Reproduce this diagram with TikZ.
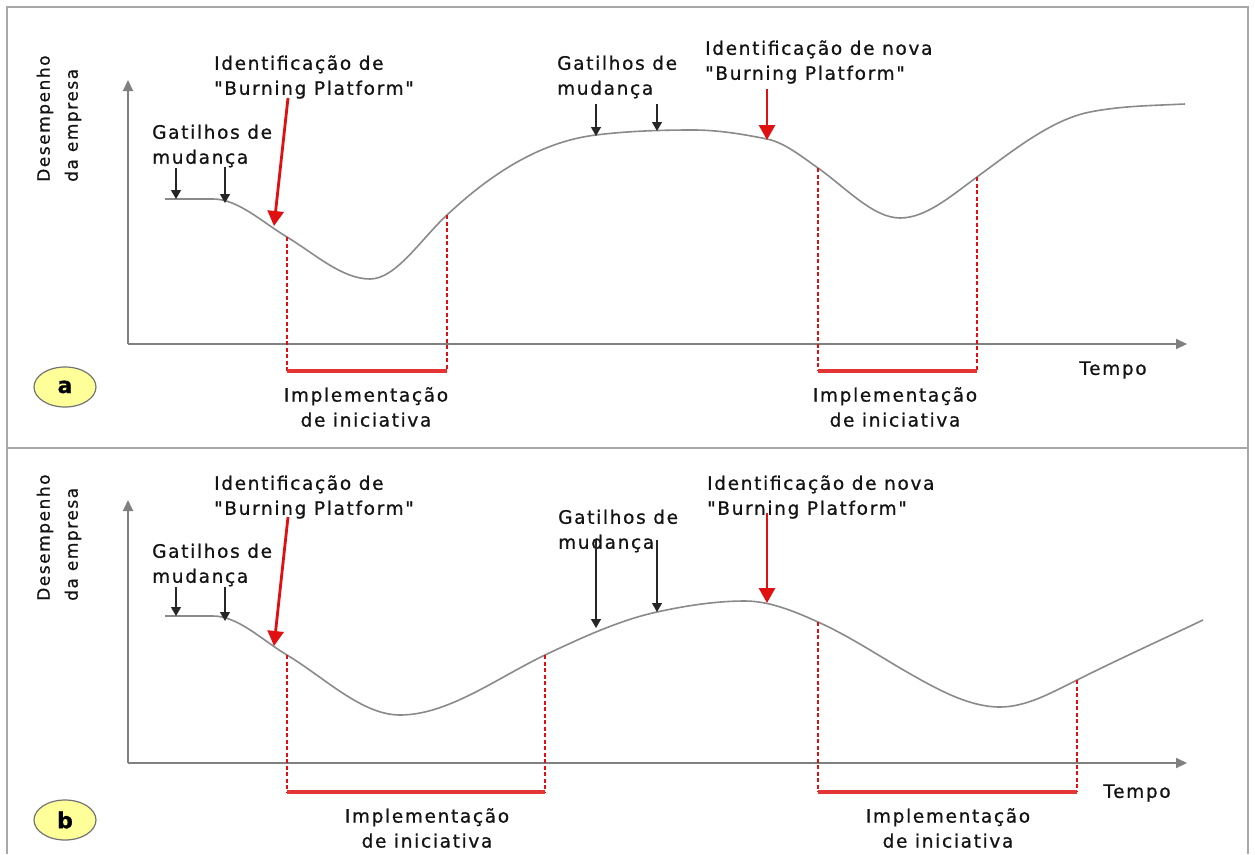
\documentclass[tikz,border=0pt]{standalone}
\usepackage{fontspec}
\newfontfamily\labfont[LetterSpace=9,FakeBold=0.8]{DejaVu Sans}
\usetikzlibrary{arrows.meta,shapes.geometric}
\definecolor{curvegray}{HTML}{8A8A8A}
\definecolor{axisgray}{HTML}{808080}
\definecolor{framegray}{HTML}{A8A8A8}
\definecolor{redline}{HTML}{E01010}
\definecolor{badgeyellow}{HTML}{FFFF99}
\tikzset{
  lbl/.style={font=\labfont\fontsize{18.5}{25}\selectfont, text=black!92, inner sep=0pt, align=left},
  clbl/.style={lbl, align=center},
  ylbl/.style={font=\labfont\fontsize{17}{28}\selectfont, text=black!92, inner sep=0pt, align=left, rotate=90},
  axisline/.style={draw=axisgray, line width=2pt, -{Triangle[width=10pt,length=11pt]}},
  curve/.style={draw=curvegray, line width=1.6pt},
  trig/.style={draw=black!85, line width=1.3pt, -{Triangle[width=10pt,length=9pt]}},
  redarrow/.style={draw=redline, line width=2.8pt, -{Triangle[width=16pt,length=15pt]}},
  reddot/.style={draw=redline, line width=2.8pt, dash pattern=on 4pt off 2.5pt},
  redbar/.style={draw=redline!85, line width=3.8pt},
  badge/.style={ellipse, draw=black!55, line width=1.2pt, fill=badgeyellow, minimum width=62pt, minimum height=40pt, inner sep=0pt, font=\labfont\fontsize{22}{22}\selectfont\bfseries},
  frame/.style={draw=framegray, line width=2.5pt}
}
\begin{document}
\begin{tikzpicture}[x=1pt, y=-1pt]
\useasboundingbox (0,0) rectangle (1255,854);
\fill[white] (0,0) rectangle (1255,854);
% frames
\draw[frame] (7,7) rectangle (1248,448);
\draw[frame] (7,854) -- (7,448) -- (1248,448) -- (1248,854);

%================ PANEL A ================
\coordinate (a-o) at (128,344);
\coordinate (a-ytop) at (128,80);
\coordinate (a-xend) at (1187,344);
\draw[axisline] (a-o) -- (a-ytop);
\draw[axisline] (a-o) -- (a-xend);

\draw[curve] (165,199) -- (213,199)
  .. controls (238,199) and (262,222) .. (287,237)
  .. controls (315,254) and (342,279) .. (370,279)
  .. controls (396,279) and (421,239) .. (447,215)
  .. controls (497,168) and (546,141) .. (596,135)
  .. controls (628,131) and (661,130) .. (693,130)
  .. controls (718,130) and (742,134) .. (767,139)
  .. controls (784,142.4) and (801,156) .. (818,168)
  .. controls (845,187) and (873,218) .. (900,218)
  .. controls (926,218) and (951,196) .. (977,177)
  .. controls (1015,149) and (1052,119.5) .. (1090,112)
  .. controls (1122,105.7) and (1153,105.6) .. (1185,104);

\node[ylbl, anchor=west] (a-ylab) at (59,182) {Desempenho\\da empresa};

\node[lbl, anchor=west] (a-gat1) at (152,146) {Gatilhos de\\mudança};
\coordinate (a-g1s) at (176,168); \coordinate (a-g1e) at (176,199);
\coordinate (a-g2s) at (225,167); \coordinate (a-g2e) at (225,203);
\draw[trig] (a-g1s) -- (a-g1e);
\draw[trig] (a-g2s) -- (a-g2e);

\node[lbl, anchor=west] (a-id1) at (214,77) {Identificação de\\"Burning Platform"};
\coordinate (a-r1s) at (288,98); \coordinate (a-r1e) at (274,226);
\draw[redarrow] (a-r1s) -- (a-r1e);

\coordinate (a-d1t) at (287,237); \coordinate (a-d1b) at (287,371);
\coordinate (a-d2t) at (447,215); \coordinate (a-d2b) at (447,371);
\draw[reddot] (a-d1t) -- (a-d1b);
\draw[reddot] (a-d2t) -- (a-d2b);
\draw[redbar] (a-d1b) -- (a-d2b);
\node[clbl] (a-imp1) at (366,407) {Implementação\\de iniciativa};

\node[lbl, anchor=west] (a-gat2) at (557,77) {Gatilhos de\\mudança};
\coordinate (a-g3s) at (596,104); \coordinate (a-g3e) at (596,136);
\coordinate (a-g4s) at (657,104); \coordinate (a-g4e) at (657,131);
\draw[trig] (a-g3s) -- (a-g3e);
\draw[trig] (a-g4s) -- (a-g4e);

\node[lbl, anchor=west] (a-id2) at (705,62) {Identificação de nova\\"Burning Platform"};
\coordinate (a-r2s) at (767,89); \coordinate (a-r2e) at (767,140);
\draw[redarrow] (a-r2s) -- (a-r2e);

\coordinate (a-d3t) at (818,168); \coordinate (a-d3b) at (818,371);
\coordinate (a-d4t) at (977,177); \coordinate (a-d4b) at (977,371);
\draw[reddot] (a-d3t) -- (a-d3b);
\draw[reddot] (a-d4t) -- (a-d4b);
\draw[redbar] (a-d3b) -- (a-d4b);
\node[clbl] (a-imp2) at (895,407) {Implementação\\de iniciativa};

\node[lbl] (a-tempo) at (1113,370) {Tempo};
\node[badge] (a-badge) at (65,387) {a};

%================ PANEL B ================
\coordinate (b-o) at (128,763);
\coordinate (b-ytop) at (128,500);
\coordinate (b-xend) at (1187,763);
\draw[axisline] (b-o) -- (b-ytop);
\draw[axisline] (b-o) -- (b-xend);

\draw[curve] (165,616) -- (213,616)
  .. controls (238,616) and (262,640) .. (287,655)
  .. controls (325,678) and (362,715) .. (400,715)
  .. controls (448,715) and (497,678) .. (545,655)
  .. controls (582,637.5) and (620,620) .. (657,612)
  .. controls (686,605.6) and (716,601) .. (745,601)
  .. controls (769,601) and (794,611) .. (818,622)
  .. controls (845,634) and (873,652) .. (900,668)
  .. controls (933,687) and (967,707) .. (1000,707)
  .. controls (1026,707) and (1051,693) .. (1077,680)
  .. controls (1119,659) and (1161,640) .. (1203,620);

\node[ylbl, anchor=west] (b-ylab) at (59,601) {Desempenho\\da empresa};

\node[lbl, anchor=west] (b-gat1) at (152,565) {Gatilhos de\\mudança};
\coordinate (b-g1s) at (176,587); \coordinate (b-g1e) at (176,616);
\coordinate (b-g2s) at (225,587); \coordinate (b-g2e) at (225,621);
\draw[trig] (b-g1s) -- (b-g1e);
\draw[trig] (b-g2s) -- (b-g2e);

\node[lbl, anchor=west] (b-id1) at (214,497) {Identificação de\\"Burning Platform"};
\coordinate (b-r1s) at (288,517); \coordinate (b-r1e) at (274,646);
\draw[redarrow] (b-r1s) -- (b-r1e);

\coordinate (b-d1t) at (287,655); \coordinate (b-d1b) at (287,792);
\coordinate (b-d2t) at (545,655); \coordinate (b-d2b) at (545,792);
\draw[reddot] (b-d1t) -- (b-d1b);
\draw[reddot] (b-d2t) -- (b-d2b);
\draw[redbar] (b-d1b) -- (b-d2b);
\node[clbl] (b-imp1) at (427,828) {Implementação\\de iniciativa};

\node[lbl, anchor=west] (b-gat2) at (558,531) {Gatilhos de\\mudança};
\coordinate (b-g3s) at (596,540); \coordinate (b-g3e) at (596,628);
\coordinate (b-g4s) at (657,540); \coordinate (b-g4e) at (657,612);
\draw[trig] (b-g3s) -- (b-g3e);
\draw[trig] (b-g4s) -- (b-g4e);

\node[lbl, anchor=west] (b-id2) at (707,497) {Identificação de nova\\"Burning Platform"};
\coordinate (b-r2s) at (767,513); \coordinate (b-r2e) at (767,603);
\draw[redarrow] (b-r2s) -- (b-r2e);

\coordinate (b-d3t) at (818,622); \coordinate (b-d3b) at (818,792);
\coordinate (b-d4t) at (1077,680); \coordinate (b-d4b) at (1077,792);
\draw[reddot] (b-d3t) -- (b-d3b);
\draw[reddot] (b-d4t) -- (b-d4b);
\draw[redbar] (b-d3b) -- (b-d4b);
\node[clbl] (b-imp2) at (948,828) {Implementação\\de iniciativa};

\node[lbl] (b-tempo) at (1137,793) {Tempo};
\node[badge] (b-badge) at (65,820) {b};
\end{tikzpicture}
\end{document}
